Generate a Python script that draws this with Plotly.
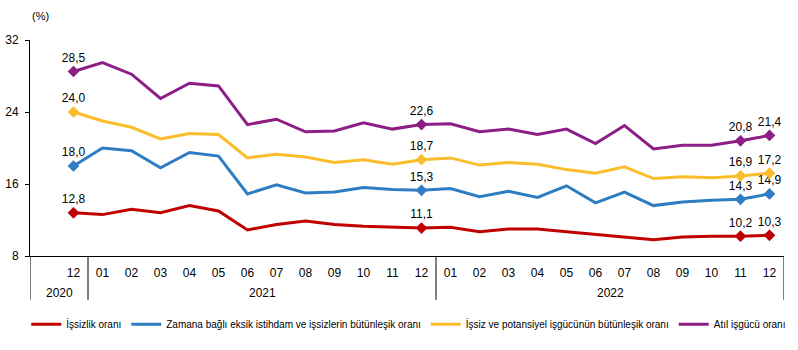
import plotly.graph_objects as go

months = ["12", "01", "02", "03", "04", "05", "06", "07", "08", "09", "10", "11", "12",
          "01", "02", "03", "04", "05", "06", "07", "08", "09", "10", "11", "12"]
years = ["2020", "2021", "2022"]
year_counts = [1, 12, 12]

issizlik = [12.8, 12.6, 13.2, 12.8, 13.6, 13.0, 10.9, 11.5, 11.9, 11.5, 11.3, 11.2, 11.1,
            11.2, 10.7, 11.0, 11.0, 10.7, 10.4, 10.1, 9.8, 10.1, 10.2, 10.2, 10.3]
zamana = [18.0, 20.0, 19.7, 17.8, 19.5, 19.1, 14.9, 15.9, 15.0, 15.1, 15.6, 15.4, 15.3,
          15.5, 14.6, 15.2, 14.5, 15.8, 13.9, 15.1, 13.6, 14.0, 14.2, 14.3, 14.9]
potansiyel = [24.0, 23.0, 22.3, 21.0, 21.6, 21.5, 18.9, 19.3, 19.0, 18.4, 18.7, 18.2, 18.7,
              18.9, 18.1, 18.4, 18.2, 17.6, 17.2, 17.9, 16.6, 16.8, 16.7, 16.9, 17.2]
atil = [28.5, 29.5, 28.2, 25.5, 27.2, 26.9, 22.6, 23.2, 21.8, 21.9, 22.8, 22.1, 22.6,
        22.7, 21.8, 22.1, 21.5, 22.1, 20.5, 22.5, 19.9, 20.3, 20.3, 20.8, 21.4]

series_names = ["İşsizlik oranı",
                "Zamana bağlı eksik istihdam ve işsizlerin bütünleşik oranı",
                "İşsiz ve potansiyel işgücünün bütünleşik oranı",
                "Atıl işgücü oranı"]
series_values = [issizlik, zamana, potansiyel, atil]
series_colors = ["#C00000", "#2E7DC2", "#FBBD2C", "#8C1E85"]
label_idx = [0, 12, 23, 24]
y_ticks = [8, 16, 24, 32]

FONT = "Liberation Sans, Arial, sans-serif"
x = list(range(len(months)))

fig = go.Figure()
for name, vals, col in zip(series_names, series_values, series_colors):
    fig.add_trace(go.Scatter(x=x, y=vals, mode="lines", name=name,
                             line=dict(color=col, width=3), hoverinfo="skip"))
for name, vals, col in zip(series_names, series_values, series_colors):
    fig.add_trace(go.Scatter(x=[x[i] for i in label_idx], y=[vals[i] for i in label_idx],
                             mode="markers+text", showlegend=False,
                             marker=dict(symbol="diamond", size=9, color=col),
                             texttemplate="%{y:.1f}", textposition="top center",
                             textfont=dict(size=12, color="black", family=FONT)))

# category group boundaries (first group has an extra empty slot on the left)
x_left = -1.5
edges = []
acc = 0
for c in year_counts:
    edges.append((acc - 0.5, acc + c - 0.5))
    acc += c

shapes = []
for sx in [x_left] + [e[1] for e in edges]:
    shapes.append(dict(type="line", xref="x", yref="paper", x0=sx, x1=sx, y0=0, y1=-0.203,
                       line=dict(color="black", width=1)))
annotations = []
for i, (yl, (a, b)) in enumerate(zip(years, edges)):
    lo = x_left if i == 0 else a
    annotations.append(dict(x=(lo + b) / 2, y=-0.17, xref="x", yref="paper", text=yl,
                            yanchor="middle", showarrow=False,
                            font=dict(size=12, family=FONT, color="black")))
annotations.append(dict(x=0, y=1.11, xref="paper", yref="paper", text="(%)", showarrow=False,
                        yanchor="middle", font=dict(size=11, family=FONT, color="black")))

fig.update_layout(
    width=798, height=350,
    margin=dict(l=30, r=14, t=40, b=93),
    paper_bgcolor="white", plot_bgcolor="white",
    separators=",.",
    font=dict(family=FONT, size=12, color="black"),
    showlegend=True,
    legend=dict(orientation="h", x=-0.005, xanchor="left", y=-0.31, yanchor="middle",
                font=dict(size=10, family=FONT, color="black"), bgcolor="rgba(0,0,0,0)"),
    shapes=shapes, annotations=annotations,
)
fig.update_xaxes(range=[x_left, len(months) - 0.5], tickvals=x, ticktext=months, showline=True,
                 linecolor="black", linewidth=1, ticks="", showgrid=False, zeroline=False,
                 ticklabelstandoff=6, automargin=False,
                 tickfont=dict(size=12, family=FONT, color="black"), fixedrange=True)
fig.update_yaxes(range=[8, 32], tickvals=y_ticks, showline=True, linecolor="black",
                 linewidth=1, ticks="outside", ticklen=4, tickcolor="black", showgrid=False,
                 zeroline=False, ticklabelstandoff=4, automargin=False,
                 tickfont=dict(size=12, family=FONT, color="black"), fixedrange=True)

fig.write_html("out.html")
